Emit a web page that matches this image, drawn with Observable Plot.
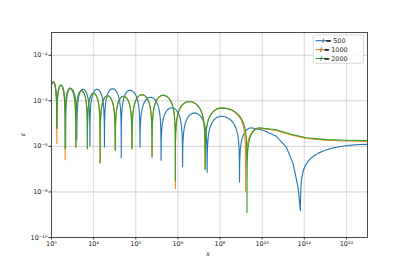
<!DOCTYPE html>
<html><head><meta charset="utf-8">
<script src="https://cdn.jsdelivr.net/npm/d3@7"></script>
<script src="https://cdn.jsdelivr.net/npm/@observablehq/plot@0.6"></script>
<style>
html,body{margin:0;padding:0;background:#fff;}
#chart{width:407px;height:271px;}
</style></head><body><div id="chart"></div>
<script>
// ---- data ----
const seriesLabels = ["500", "1000", "2000"];
const seriesColors = ["#1f77b4", "#ff7f0e", "#2ca02c"];

const l500X = [1, 1.218, 1.787, 2.770, 4.69, 7.84, 15.99, 30.8, 66.4, 142.9, 325, 781, 2047, 5309, 15880, 50120, 158500, 5.0e5, 1.67e6, 6.08e6, 2.44e7, 1.13e8, 8.41e8, 3.03e9, 1.13e10, 4.69e10, 1.40e11, 2.92e11, 5.05e11, 6.50e11, 1e15];
const l500E = [5.33e-4, 6.74e-4, 6.0e-6, 4.83e-4, 9.08e-7, 3.56e-4, 1.94e-6, 3.22e-4, 1.06e-6, 3.22e-4, 9.36e-7, 3.39e-4, 3.20e-7, 2.91e-4, 9.36e-7, 1.43e-4, 2.44e-7, 4.95e-5, 1.24e-7, 2.92e-5, 7.23e-8, 2.09e-5, 2.71e-8, 6.53e-6, 5.07e-6, 2.77e-6, 9.36e-7, 1.80e-7, 1.58e-8, 1.55e-9, 1.23e-6];

const l1000X = [1, 1.218, 1.787, 2.770, 4.436, 7.42, 14.32, 26.17, 50.5, 97.4, 203, 451, 1061, 2606, 6607, 19770, 59150, 197200, 758600, 3.40e6, 1.96e7, 1.20e8, 1.66e9, 7.3e9, 4.69e10, 2.42e11, 1.25e12, 1.12e13, 1.0e14, 1e15];
const l1000E = [5.33e-4, 6.74e-4, 1.32e-6, 4.83e-4, 2.62e-7, 3.56e-4, 9.36e-7, 2.77e-4, 7.96e-7, 2.15e-4, 1.89e-7, 1.67e-4, 6.70e-7, 1.58e-4, 7.41e-7, 1.85e-4, 3.40e-7, 1.75e-4, 1.43e-8, 9.27e-5, 9.80e-8, 4.85e-5, 1.06e-8, 6.3e-6, 4.98e-6, 3.16e-6, 2.22e-6, 1.85e-6, 1.72e-6, 1.67e-6];

const l2000X = [1, 1.218, 1.787, 2.770, 4.436, 7.42, 14.32, 26.17, 50.5, 97.4, 203, 451, 1061, 2606, 6607, 19770, 59150, 197200, 758600, 3.40e6, 1.96e7, 1.20e8, 1.91e9, 7.52e9, 4.69e10, 2.42e11, 1.25e12, 1.12e13, 1.0e14, 1e15];
const l2000E = [5.33e-4, 6.74e-4, 6.21e-6, 4.83e-4, 7.96e-7, 3.56e-4, 9.36e-7, 2.77e-4, 7.96e-7, 2.15e-4, 1.89e-7, 1.67e-4, 6.70e-7, 1.58e-4, 8.20e-7, 1.85e-4, 3.40e-7, 1.75e-4, 3.22e-8, 9.27e-5, 9.80e-8, 4.85e-5, 1.26e-9, 6.53e-6, 5.34e-6, 3.39e-6, 2.38e-6, 1.98e-6, 1.85e-6, 1.79e-6];

const xTicks = [1, 1e2, 1e4, 1e6, 1e8, 1e10, 1e12, 1e14];
const yTicks = [1e-10, 1e-8, 1e-6, 1e-4, 1e-2];

// ---- layout ----
const W = 407, H = 271;
const mL = 51, mR = 40, mT = 32, mB = 34;
const PX_PER_DECADE = (H - mT - mB) / 9;

const SUP = {"0":"\u2070","1":"\u00b9","2":"\u00b2","3":"\u00b3","4":"\u2074","5":"\u2075","6":"\u2076","7":"\u2077","8":"\u2078","9":"\u2079","-":"\u207b"};
const powFmt = v => "10" + String(Math.round(Math.log10(v))).split("").map(c => SUP[c]).join("");

// curve: rounded arches with sharp cusps at the sampled minima (log|sin| profile)
const U = [0.003, 0.008, 0.015, 0.025, 0.04, 0.06, 0.085, 0.12, 0.16, 0.21, 0.27, 0.34, 0.42, 0.5, 0.6, 0.7, 0.8, 0.9, 1];
function archCurve(ctx) {
  let P = [];
  return {
    areaStart() {}, areaEnd() {},
    lineStart() { P = []; },
    point(x, y) { P.push([+x, +y]); },
    lineEnd() {
      const n = P.length; if (!n) return;
      const dip = i => i > 0 && i < n - 1 && P[i][1] > P[i-1][1] && P[i][1] > P[i+1][1];
      const top = i => i === 0 || i === n - 1 || (P[i][1] < P[i-1][1] && P[i][1] < P[i+1][1]);
      ctx.moveTo(P[0][0], P[0][1]);
      for (let i = 0; i < n - 1; i++) {
        const a = P[i], b = P[i+1];
        let di = -1;
        if (dip(i) && top(i+1)) di = i; else if (dip(i+1) && top(i)) di = i + 1;
        if (di < 0) { ctx.lineTo(b[0], b[1]); continue; }
        const d = P[di], t = di === i ? b : a;
        const f = u => Math.min(d[1], t[1] - PX_PER_DECADE * Math.log10(Math.sin(Math.PI / 2 * u)));
        if (di === i) {
          for (const u of U) ctx.lineTo(d[0] + (t[0] - d[0]) * u, f(u));
        } else {
          for (let k = U.length - 2; k >= 0; k--) { const u = U[k]; ctx.lineTo(d[0] + (t[0] - d[0]) * u, f(u)); }
          ctx.lineTo(d[0], d[1]);
        }
      }
    }
  };
}

const toRows = (xs, es) => xs.map((x, i) => ({x, e: es[i]}));
const series = [toRows(l500X, l500E), toRows(l1000X, l1000E), toRows(l2000X, l2000E)];

const plot = Plot.plot({
  width: W, height: H,
  marginLeft: mL, marginRight: mR, marginTop: mT, marginBottom: mB,
  style: {fontFamily: "'DejaVu Sans', sans-serif", fontSize: "6.5px", color: "#222", background: "#fff"},
  x: {type: "log", domain: [1, 1e15]},
  y: {type: "log", domain: [1e-10, 1e-1]},
  marks: [
    Plot.gridX(xTicks, {stroke: "#c8c8c8", strokeOpacity: 0.6, strokeWidth: 1.2}),
    Plot.gridY(yTicks, {stroke: "#b8b8b8", strokeOpacity: 0.7, strokeWidth: 0.9}),
    ...series.map((rows, k) => Plot.line(rows, {x: "x", y: "e", stroke: seriesColors[k], strokeWidth: 1.1, curve: archCurve, clip: true})),
    Plot.frame({stroke: "#3a3a3a", strokeWidth: 0.9}),
    Plot.axisX(xTicks, {tickFormat: powFmt, tickSize: 2.5, tickPadding: 1.5, label: null, stroke: "#333"}),
    Plot.axisY(yTicks, {tickFormat: powFmt, tickSize: 2.5, tickPadding: 1.5, label: null, stroke: "#333"})
  ]
});
document.getElementById("chart").appendChild(plot);

// axis titles and legend
const svg = d3.select(plot);
svg.append("text").attr("x", 208).attr("y", 255.5).attr("text-anchor", "middle")
  .attr("font-style", "italic").attr("font-size", 6.5).attr("fill", "#222").text("x");
svg.append("text").attr("transform", "translate(24.5,134.5) rotate(-90)").attr("text-anchor", "middle")
  .attr("font-style", "italic").attr("font-size", 6.5).attr("fill", "#222").text("\u03b5");

const lg = svg.append("g");
lg.append("rect").attr("x", 313.3).attr("y", 35).attr("width", 50).attr("height", 28.3).attr("rx", 1.5)
  .attr("fill", "#fff").attr("fill-opacity", 0.85).attr("stroke", "#d0d0d0").attr("stroke-width", 0.8);
seriesLabels.forEach((lab, i) => {
  const y = 40.7 + i * 8.9;
  lg.append("line").attr("x1", 315.5).attr("x2", 329.3).attr("y1", y).attr("y2", y)
    .attr("stroke", seriesColors[i]).attr("stroke-width", 1.1);
  const t = lg.append("text").attr("x", 333.8).attr("y", y).attr("dy", "0.35em").attr("font-size", 6.4)
    .attr("fill", "#222").attr("xml:space", "preserve");
  t.append("tspan").attr("font-style", "italic").text("l");
  t.append("tspan").attr("stroke", "#222").attr("stroke-width", 0.3).text(" = ");
  t.append("tspan").text(lab);
});
</script></body></html>
